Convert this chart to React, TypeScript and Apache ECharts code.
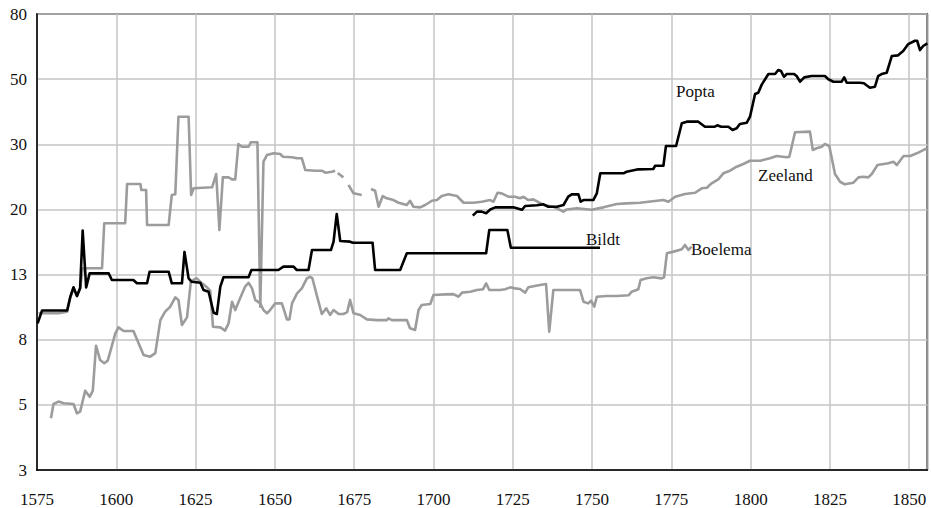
import React, { useEffect, useRef } from "react";
import * as echarts from "echarts";

const Y_TICKS = [3, 5, 8, 13, 20, 30, 50, 80];
const X_MIN = 1575;
const X_MAX = 1855.7;
const X_STEP = 25;

const BILDT: [number, number | null][] = [
  [1575.2, 9.04], [1576.6, 9.95], [1584.5, 9.95], [1585.5, 11.02], [1586.5, 11.82], [1587.6, 11.08],
  [1588.6, 11.76], [1589.4, 17.4], [1590.5, 11.82], [1591.6, 13.1], [1597.6, 13.1], [1598.6, 12.48],
  [1605.4, 12.48], [1606.5, 12.18], [1609.7, 12.18], [1610.5, 13.25], [1616.5, 13.25], [1617.5, 12.18],
  [1620.7, 12.18], [1621.5, 15.1], [1622.8, 12.64], [1623.8, 12.32], [1626.5, 12.23], [1627.5, 11.59],
  [1629.1, 11.44], [1630.7, 9.78], [1631.7, 9.69], [1632.8, 11.88], [1633.8, 12.74], [1641.7, 12.74],
  [1642.6, 13.4], [1651.1, 13.4], [1652.7, 13.7], [1655.9, 13.7], [1656.9, 13.4], [1660.6, 13.4],
  [1661.7, 15.3], [1667.7, 15.3], [1668.5, 16.16], [1669.5, 19.41], [1670.6, 16.23], [1673.7, 16.16],
  [1674.6, 16.05], [1680.8, 16.05], [1681.6, 13.4], [1689.5, 13.4], [1691.6, 14.97], [1716.6, 14.97],
  [1717.6, 17.46], [1723.3, 17.46], [1724.4, 15.53], [1752.5, 15.53],
];

const POPTA: [number, number | null][] = [
  [1712.4, 19.19], [1713.7, 19.71], [1715.2, 19.71], [1716.6, 19.5], [1717.9, 20.0], [1719.5, 20.26],
  [1725.2, 20.26], [1727.9, 19.95], [1728.9, 20.43], [1732.6, 20.52], [1734.7, 20.65], [1736.2, 20.34],
  [1738.9, 20.34], [1741.0, 20.56], [1742.5, 21.65], [1743.6, 21.97], [1745.7, 21.97], [1746.4, 20.98],
  [1747.3, 21.2], [1750.4, 21.2], [1751.5, 22.1], [1752.6, 25.04], [1759.9, 25.04], [1760.9, 25.29],
  [1764.6, 25.67], [1769.3, 25.72], [1769.9, 26.25], [1772.5, 26.25], [1773.3, 29.68], [1776.5, 29.68],
  [1778.3, 35.37], [1779.9, 35.82], [1783.5, 35.82], [1785.6, 34.44], [1788.7, 34.44], [1789.5, 34.82],
  [1790.7, 34.44], [1793.0, 34.44], [1794.3, 33.56], [1795.6, 34.0], [1796.6, 35.18], [1798.8, 35.54],
  [1799.8, 37.25], [1801.4, 44.5], [1802.4, 44.96], [1803.5, 47.9], [1805.6, 51.87], [1807.7, 51.87],
  [1808.7, 53.4], [1809.6, 53.0], [1810.5, 50.87], [1811.4, 51.87], [1813.7, 51.87], [1814.5, 51.13],
  [1815.6, 49.0], [1816.9, 50.65], [1819.2, 51.13], [1823.4, 51.13], [1824.5, 49.95], [1826.1, 49.0],
  [1828.7, 49.0], [1829.5, 50.65], [1830.3, 48.6], [1834.5, 48.6], [1835.7, 48.4], [1837.6, 46.76],
  [1839.2, 47.13], [1840.2, 51.13], [1841.3, 51.87], [1842.9, 52.36], [1844.5, 59.07], [1846.5, 59.37],
  [1848.1, 61.23], [1849.7, 64.4], [1851.8, 65.96], [1852.5, 65.96], [1853.4, 61.68], [1854.4, 63.49],
  [1855.7, 64.74],
];

const ZEELAND: [number, number | null][] = [
  [1575.5, 9.74], [1581.8, 9.74], [1584.5, 9.85], [1585.5, 10.95], [1586.5, 11.76], [1587.6, 11.08],
  [1588.6, 11.7], [1589.4, 13.55], [1595.5, 13.55], [1596.2, 18.25], [1602.8, 18.25], [1603.4, 23.42],
  [1607.6, 23.42], [1607.9, 22.57], [1609.4, 22.57], [1609.7, 18.04], [1616.5, 18.04], [1617.5, 21.88],
  [1618.6, 21.97], [1619.6, 37.25], [1622.8, 37.25], [1623.6, 21.88], [1624.4, 22.81], [1630.2, 22.95],
  [1631.5, 24.93], [1632.5, 17.46], [1633.6, 24.42], [1635.4, 24.42], [1636.5, 24.12], [1637.5, 24.12],
  [1638.5, 30.07], [1639.6, 29.55], [1641.7, 29.55], [1642.4, 30.47], [1644.5, 30.47], [1645.4, 10.23],
  [1646.4, 26.92], [1647.5, 28.06], [1649.6, 28.36], [1651.7, 28.24], [1652.5, 27.77], [1655.4, 27.67],
  [1657.0, 27.49], [1658.5, 27.49], [1659.6, 25.56], [1662.7, 25.45], [1664.8, 25.45], [1665.9, 25.13],
  [1668.0, 25.29], [1669.0, 25.45], [1669.4, null], [1669.8, 25.1], [1671.6, 24.42], [1672.5, null],
  [1673.2, 23.28], [1674.8, 22.11], [1677.4, 21.88], [1679.0, null], [1680.3, 22.71], [1681.6, 22.47],
  [1682.7, 20.34], [1684.0, 21.74], [1685.3, 21.43], [1687.4, 21.2], [1689.0, 20.85], [1691.6, 20.56],
  [1692.6, 21.11], [1693.7, 20.34], [1695.8, 20.26], [1697.4, 20.56], [1699.5, 21.11], [1701.1, 21.2],
  [1702.6, 21.74], [1704.7, 21.97], [1707.4, 21.74], [1709.5, 20.85], [1712.6, 20.85], [1715.2, 20.98],
  [1717.9, 21.2], [1718.9, 20.98], [1720.2, 22.19], [1721.5, 22.1], [1723.6, 21.65], [1725.7, 21.65],
  [1727.3, 21.44], [1728.4, 21.65], [1729.9, 21.2], [1731.5, 21.29], [1734.7, 20.56], [1737.8, 20.34],
  [1741.0, 19.71], [1742.0, 20.0], [1745.2, 20.14], [1749.9, 19.95], [1753.6, 20.26], [1757.8, 20.68],
  [1760.9, 20.77], [1765.1, 20.85], [1772.5, 21.2], [1774.1, 20.98], [1776.2, 21.65], [1779.3, 22.01],
  [1782.5, 22.19], [1784.6, 22.81], [1786.2, 22.89], [1787.7, 23.53], [1789.8, 24.12], [1791.4, 25.04],
  [1793.5, 25.45], [1795.6, 26.09], [1797.7, 26.53], [1799.8, 27.08], [1803.0, 27.08], [1806.1, 27.49],
  [1808.2, 27.89], [1811.4, 27.67], [1812.2, 27.77], [1814.0, 32.96], [1818.7, 33.12], [1819.6, 28.95],
  [1820.8, 29.26], [1822.4, 29.55], [1823.4, 30.07], [1824.8, 29.68], [1826.6, 24.93], [1828.2, 23.76],
  [1829.7, 23.38], [1832.4, 23.62], [1834.0, 24.42], [1835.5, 24.51], [1837.1, 24.42], [1838.2, 24.93],
  [1840.0, 26.37], [1843.4, 26.65], [1845.0, 26.92], [1846.1, 26.37], [1848.2, 27.89], [1850.3, 27.89],
  [1852.4, 28.36], [1855.5, 29.26],
];

const BOELEMA: [number, number | null][] = [
  [1579.4, 4.5], [1580.2, 5.03], [1581.8, 5.12], [1583.4, 5.06], [1586.5, 5.03], [1587.6, 4.68],
  [1588.6, 4.74], [1590.2, 5.54], [1591.6, 5.3], [1592.6, 5.54], [1593.6, 7.66], [1594.9, 6.91],
  [1596.2, 6.75], [1597.3, 6.88], [1599.7, 8.39], [1600.7, 8.77], [1602.3, 8.54], [1605.4, 8.54],
  [1608.6, 7.17], [1610.7, 7.08], [1612.3, 7.26], [1613.9, 9.26], [1615.4, 9.86], [1617.0, 10.23],
  [1618.6, 10.97], [1619.6, 10.76], [1620.7, 8.93], [1622.3, 9.45], [1623.5, 12.32], [1624.6, 12.55],
  [1625.4, 12.64], [1627.0, 12.18], [1628.6, 11.82], [1629.6, 11.53], [1630.5, 8.81], [1632.8, 8.77],
  [1634.3, 8.56], [1635.4, 9.04], [1636.5, 10.62], [1637.5, 9.98], [1639.1, 10.94], [1640.6, 11.88],
  [1641.7, 12.23], [1642.8, 11.73], [1643.8, 10.76], [1645.4, 10.49], [1646.4, 9.98], [1647.5, 9.74],
  [1648.5, 9.98], [1650.1, 10.49], [1652.2, 10.49], [1652.9, 9.98], [1653.8, 9.31], [1654.6, 9.31],
  [1655.4, 10.49], [1657.0, 11.3], [1658.5, 11.73], [1660.1, 12.64], [1661.1, 12.79], [1661.8, 12.67],
  [1663.2, 11.16], [1664.8, 9.69], [1666.2, 10.11], [1667.4, 9.62], [1668.5, 9.98], [1670.1, 9.69],
  [1671.6, 9.69], [1672.8, 9.83], [1673.7, 10.76], [1674.8, 9.74], [1676.9, 9.62], [1679.0, 9.31],
  [1682.2, 9.26], [1685.3, 9.26], [1685.8, 9.38], [1686.9, 9.26], [1691.6, 9.26], [1692.6, 8.71],
  [1694.2, 8.6], [1695.3, 9.98], [1696.3, 10.36], [1699.0, 10.44], [1700.0, 11.16], [1703.7, 11.22],
  [1706.3, 11.24], [1707.9, 11.02], [1709.0, 11.36], [1711.6, 11.44], [1713.7, 11.59], [1715.6, 11.65],
  [1716.6, 12.18], [1717.6, 11.59], [1721.0, 11.59], [1722.6, 11.65], [1724.2, 11.82], [1725.7, 11.73],
  [1727.3, 11.67], [1728.9, 11.36], [1729.9, 11.82], [1733.6, 12.03], [1735.5, 12.12], [1736.5, 8.49],
  [1737.8, 11.59], [1741.0, 11.59], [1746.2, 11.59], [1747.3, 10.62], [1748.8, 10.49], [1749.7, 10.7],
  [1750.7, 10.23], [1751.5, 11.02], [1754.6, 11.08], [1757.8, 11.08], [1761.5, 11.14], [1762.5, 11.44],
  [1764.6, 11.65], [1765.3, 12.48], [1767.2, 12.64], [1769.3, 12.74], [1771.9, 12.64], [1772.7, 12.74],
  [1773.6, 14.97], [1775.7, 15.13], [1778.3, 15.36], [1779.3, 15.81], [1780.4, 15.3], [1781.4, 15.63],
];

const SERIES_LABELS = ["Popta", "Zeeland", "Bildt", "Boelema"];

function toPos(v: number | null): number | null {
  if (v == null) return null;
  const n = Y_TICKS.length;
  for (let k = 0; k < n - 1; k++) {
    const a = Y_TICKS[k];
    const b = Y_TICKS[k + 1];
    if (v <= b || k === n - 2) return k + Math.log(v / a) / Math.log(b / a);
  }
  return null;
}

function build(data: [number, number | null][]) {
  return data.map(([x, v]) => [x, toPos(v)]);
}

export default function App() {
  const ref = useRef<HTMLDivElement>(null);
  useEffect(() => {
    if (!ref.current) return;
    const chart = echarts.init(ref.current, null, { renderer: "svg" });
    const font = "'Liberation Serif', 'Times New Roman', serif";
    const gray = "#9c9c9c";
    const lineSeries = (name: string, data: [number, number | null][], color: string) => ({
      type: "line",
      name,
      data: build(data),
      showSymbol: false,
      symbol: "none",
      connectNulls: false,
      lineStyle: { color, width: 2.6, join: "round", cap: "butt" },
      emphasis: { disabled: true },
    });
    const textEl = (text: string, x: number, y: number) => ({
      type: "text",
      left: x,
      top: y,
      style: { text, font: `17px ${font}`, fill: "#111" },
      z: 100,
    });
    chart.setOption({
      animation: false,
      backgroundColor: "#fff",
      grid: {
        left: 37,
        right: 3.7,
        top: 14,
        bottom: 38,
        show: true,
        borderColor: "#000",
        borderWidth: 1.5,
        backgroundColor: "transparent",
      },
      xAxis: {
        type: "value",
        min: X_MIN,
        max: X_MAX,
        interval: X_STEP,
        axisLine: { show: true, lineStyle: { color: "#000", width: 1.5 } },
        axisTick: { show: false },
        splitLine: { show: true, lineStyle: { color: "#c4c4c4", width: 1.5 } },
        axisLabel: {
          margin: 21,
          color: "#111",
          fontFamily: font,
          fontSize: 17,
          showMaxLabel: false,
          formatter: (v: number) => (Math.abs(v % X_STEP) < 1e-6 ? String(v) : ""),
        },
      },
      yAxis: {
        type: "value",
        min: 0,
        max: Y_TICKS.length - 1,
        interval: 1,
        axisLine: { show: true, lineStyle: { color: "#000", width: 1.5 } },
        axisTick: { show: false },
        splitLine: { show: true, lineStyle: { color: "#c4c4c4", width: 1.5 } },
        axisLabel: {
          margin: 10,
          color: "#111",
          fontFamily: font,
          fontSize: 17,
          formatter: (v: number) => String(Y_TICKS[Math.round(v)] ?? ""),
        },
      },
      series: [
        lineSeries("Zeeland", ZEELAND, gray),
        lineSeries("Boelema", BOELEMA, gray),
        lineSeries("Bildt", BILDT, "#000"),
        lineSeries("Popta", POPTA, "#000"),
      ],
      graphic: [
        textEl(SERIES_LABELS[0], 676, 83),
        textEl(SERIES_LABELS[1], 758, 167),
        textEl(SERIES_LABELS[2], 586, 231),
        textEl(SERIES_LABELS[3], 691, 241),
      ],
    });
    return () => chart.dispose();
  }, []);
  return (
    <div
      ref={ref}
      style={{ position: "fixed", left: 0, top: 0, width: 931, height: 508, background: "#fff" }}
    />
  );
}
